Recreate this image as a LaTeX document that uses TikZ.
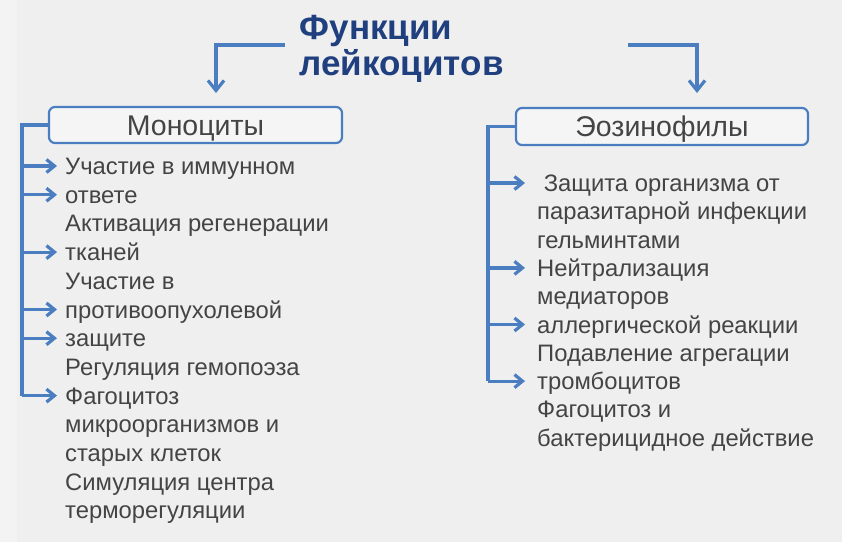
\documentclass[tikz,border=0pt]{standalone}
\usepackage{fontspec}
\setmainfont{Liberation Sans}
\usetikzlibrary{arrows.meta}
\definecolor{bg}{HTML}{EFEFEF}
\definecolor{bgl}{HTML}{F3F3F3}
\definecolor{lb}{HTML}{4A7EC1}
\definecolor{navy}{HTML}{1F3F7F}
\definecolor{txt}{HTML}{444444}
\definecolor{boxfill}{HTML}{F5F5F5}
\begin{document}
\begin{tikzpicture}[x=1pt,y=-1pt,
  conn/.style={draw=lb, line width=3.2pt},
  arr/.style={conn, -{Straight Barb[length=8pt,width=13pt]}},
  bigarr/.style={conn, -{Straight Barb[length=10pt,width=16pt]}},
  larr/.style={arr, shorten >=8pt},
  rarr/.style={arr, shorten >=12pt},
  catbox/.style={draw=lb, line width=2.2pt, rounded corners=6pt, fill=boxfill,
    text=txt, font=\fontsize{28.5}{30}\selectfont, inner sep=0pt,
    text height=20.4pt, text depth=0pt},
  item/.style={anchor=west, inner sep=0pt, text=txt, font=\fontsize{23.8}{28}\selectfont,
    text height=17pt, text depth=0pt},
  ttl/.style={anchor=west, text=navy, align=left, inner xsep=14.5pt,
    font=\bfseries\fontsize{35}{36}\selectfont}]
\fill[bg] (0,0) rectangle (842,542);
\fill[bgl] (0,0) rectangle (17,542);
\useasboundingbox (0,0) rectangle (842,542);

% title
\node[ttl] (title) at (285,49) {Функции\\лейкоцитов};
\coordinate (ltip) at (216,93);
\coordinate (rstart) at (628,45);
\coordinate (rtip) at (697,93);
\draw[bigarr] ([yshift=4pt]title.west) -| (ltip);
\draw[bigarr] (rstart) -| (rtip);

% boxes
\node[catbox, minimum width=293pt, minimum height=36pt] (mono) at (195.5,125) {Моноциты};
\node[catbox, minimum width=292pt, minimum height=37pt] (eos) at (662,126.5) {Эозинофилы};

% left items
\node[item] (l0) at (65,166.0) {Участие в иммунном};
\node[item] (l1) at (65,194.7) {ответе};
\node[item] (l2) at (65,223.4) {Активация регенерации};
\node[item] (l3) at (65,252.1) {тканей};
\node[item] (l4) at (65,280.8) {Участие в};
\node[item] (l5) at (65,309.5) {противоопухолевой};
\node[item] (l6) at (65,338.2) {защите};
\node[item] (l7) at (65,366.9) {Регуляция гемопоэза};
\node[item] (l8) at (65,395.6) {Фагоцитоз};
\node[item] (l9) at (65,424.3) {микроорганизмов и};
\node[item] (l10) at (65,453.0) {старых клеток};
\node[item] (l11) at (65,481.7) {Симуляция центра};
\node[item] (l12) at (65,510.4) {терморегуляции};

\coordinate (lv) at (22,0);
\draw[conn] (mono.west) -| (lv |- l8.west);
\foreach \n in {l0,l1,l3,l5,l6,l8}
  \draw[larr] (lv |- \n.west) -- (\n.west);

% right items
\node[item] (r0) at (537,183.0) {\ Защита организма от};
\node[item] (r1) at (537,211.3) {паразитарной инфекции};
\node[item] (r2) at (537,239.6) {гельминтами};
\node[item] (r3) at (537,267.9) {Нейтрализация};
\node[item] (r4) at (537,296.2) {медиаторов};
\node[item] (r5) at (537,324.5) {аллергической реакции};
\node[item] (r6) at (537,352.8) {Подавление агрегации};
\node[item] (r7) at (537,381.1) {тромбоцитов};
\node[item] (r8) at (537,409.4) {Фагоцитоз и};
\node[item] (r9) at (537,437.7) {бактерицидное действие};

\coordinate (rv) at (488,0);
\draw[conn] (eos.west) -| (rv |- r7.west);
\foreach \n in {r0,r3,r5,r7}
  \draw[rarr] (rv |- \n.west) -- (\n.west);
\end{tikzpicture}
\end{document}
